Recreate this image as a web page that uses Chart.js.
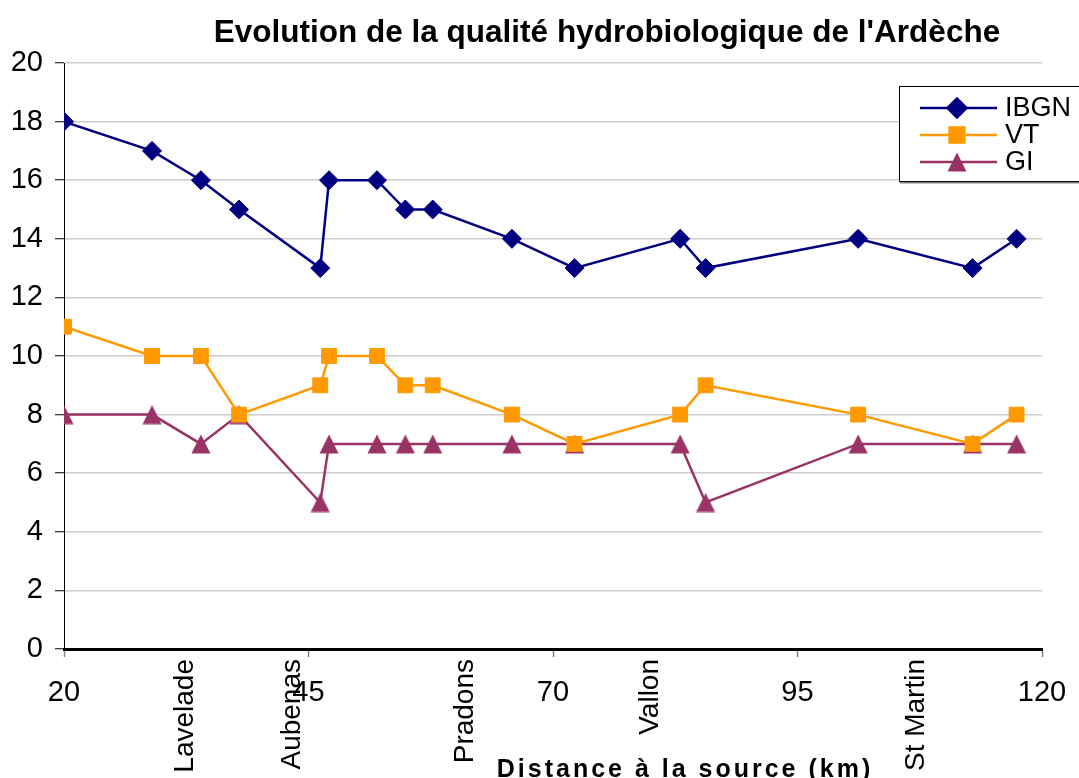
<!DOCTYPE html>
<html>
<head>
<meta charset="utf-8">
<script src="https://cdn.jsdelivr.net/npm/chart.js@4/dist/chart.umd.min.js"></script>
<style>
  body { margin: 0; background: #fff; }
  #wrap { width: 1079px; height: 778px; }
</style>
</head>
<body>
<div id="wrap"><canvas id="myChart" width="1079" height="778"></canvas></div>
<script>
// distance from the source (km) of each sampling station
const distanceKm = [20, 29, 34, 37.9, 46.2, 47.1, 52, 54.9, 57.7, 65.8, 72.2, 83, 85.6, 101.2, 112.9, 117.4];
const ibgn = [18, 17, 16, 15, 13, 16, 16, 15, 15, 14, 13, 14, 13, 14, 13, 14];
const vt   = [11, 10, 10, 8, 9, 10, 10, 9, 9, 8, 7, 8, 9, 8, 7, 8];
const gi   = [8, 8, 7, 8, 5, 7, 7, 7, 7, 7, 7, 7, 5, 7, 7, 7];

// towns written under the axis
const townNames = ['Lavelade', 'Aubenas', 'Pradons', 'Vallon', 'St Martin'];
const townKm = [32.4, 43.3, 61, 79.9, 107.1];

const chartTitle = "Evolution de la qualité hydrobiologique de l'Ardèche";
const xTitle = 'Distance à la source (km)';
const FONT = '"Liberation Sans", Arial, sans-serif';

const toPoints = ys => ys.map((y, i) => ({ x: distanceKm[i], y }));

// excel style triangle, centred on its box
const tri = document.createElement('canvas');
tri.width = 20; tri.height = 20;
(() => {
  const c = tri.getContext('2d');
  c.fillStyle = '#993366';
  c.beginPath();
  c.moveTo(10, 0.5);
  c.lineTo(19.5, 19.5);
  c.lineTo(0.5, 19.5);
  c.closePath();
  c.fill();
})();

const series = [
  { label: 'IBGN', data: toPoints(ibgn), color: '#000080', pointStyle: 'rectRot', pointRadius: 9.5 },
  { label: 'VT', data: toPoints(vt), color: '#FF9900', pointStyle: 'rect', pointRadius: 10.5 },
  { label: 'GI', data: toPoints(gi), color: '#993366', pointStyle: tri, pointRadius: 10 }
];

const decorations = {
  id: 'decorations',
  afterDraw(chart) {
    const ctx = chart.ctx;
    const xs = chart.scales.x;
    ctx.save();

    // title
    ctx.fillStyle = '#000';
    ctx.font = 'bold 31.5px ' + FONT;
    ctx.textAlign = 'center';
    ctx.textBaseline = 'alphabetic';
    ctx.fillText(chartTitle, 607, 42);

    // town names, rotated
    ctx.font = '28px ' + FONT;
    townNames.forEach((name, i) => {
      ctx.save();
      ctx.translate(xs.getPixelForValue(townKm[i]), 659);
      ctx.rotate(-Math.PI / 2);
      ctx.textAlign = 'right';
      ctx.textBaseline = 'middle';
      ctx.fillText(name, 0, 0);
      ctx.restore();
    });

    // x axis title
    ctx.font = 'bold 25px ' + FONT;
    ctx.letterSpacing = '3px';
    ctx.textAlign = 'center';
    ctx.fillText(xTitle, 685, 777);
    ctx.letterSpacing = '0px';

    // legend box
    ctx.fillStyle = '#fff';
    ctx.fillRect(899, 86, 180, 96);
    ctx.strokeStyle = '#808080';
    ctx.lineWidth = 2;
    ctx.beginPath();
    ctx.moveTo(900, 182.5);
    ctx.lineTo(1079, 182.5);
    ctx.stroke();
    ctx.strokeStyle = '#000';
    ctx.lineWidth = 1;
    ctx.strokeRect(899.5, 86.5, 190, 95);

    ctx.font = '27px ' + FONT;
    ctx.textAlign = 'left';
    ctx.textBaseline = 'middle';
    series.forEach((s, i) => {
      const y = 108 + i * 27;
      ctx.strokeStyle = s.color;
      ctx.lineWidth = 2.5;
      ctx.beginPath();
      ctx.moveTo(920, y);
      ctx.lineTo(997, y);
      ctx.stroke();
      ctx.fillStyle = s.color;
      Chart.helpers.drawPoint(ctx, { pointStyle: s.pointStyle, radius: s.pointRadius, borderWidth: 1, rotation: 0 }, 957, y);
      ctx.fillStyle = '#000';
      ctx.fillText(s.label, 1005, y + 1);
    });

    ctx.restore();
  }
};

new Chart(document.getElementById('myChart'), {
  type: 'line',
  data: {
    datasets: series.map(s => ({
      label: s.label,
      data: s.data,
      borderColor: s.color,
      backgroundColor: s.color,
      borderWidth: 2.5,
      pointStyle: s.pointStyle,
      pointRadius: s.pointRadius,
      pointBorderWidth: 1,
      pointBorderColor: s.color,
      pointBackgroundColor: s.color,
      tension: 0
    }))
  },
  options: {
    responsive: false,
    animation: false,
    devicePixelRatio: 1,
    layout: { padding: { top: 63, right: 37, left: 0, bottom: 0 } },
    plugins: {
      legend: { display: false },
      title: { display: false },
      tooltip: { enabled: false }
    },
    scales: {
      x: {
        type: 'linear',
        min: 20,
        max: 120,
        afterFit: scale => {
          scale.height = 129;
          scale.paddingLeft = 0;
          scale.paddingRight = 0;
        },
        ticks: {
          stepSize: 25,
          color: '#000',
          padding: 19,
          maxRotation: 0,
          font: { family: FONT, size: 29 }
        },
        grid: { drawOnChartArea: false, tickLength: 8, tickColor: '#808080', tickWidth: 1.5 },
        border: { color: '#000', width: 3 }
      },
      y: {
        min: 0,
        max: 20,
        afterFit: scale => { scale.width = 64; },
        ticks: {
          stepSize: 2,
          color: '#000',
          padding: 12,
          font: { family: FONT, size: 29 }
        },
        grid: { color: '#cccccc', lineWidth: 1.5, tickLength: 9, tickColor: '#000', tickWidth: 1 },
        border: { color: '#000', width: 1 }
      }
    }
  },
  plugins: [decorations]
});
</script>
</body>
</html>
